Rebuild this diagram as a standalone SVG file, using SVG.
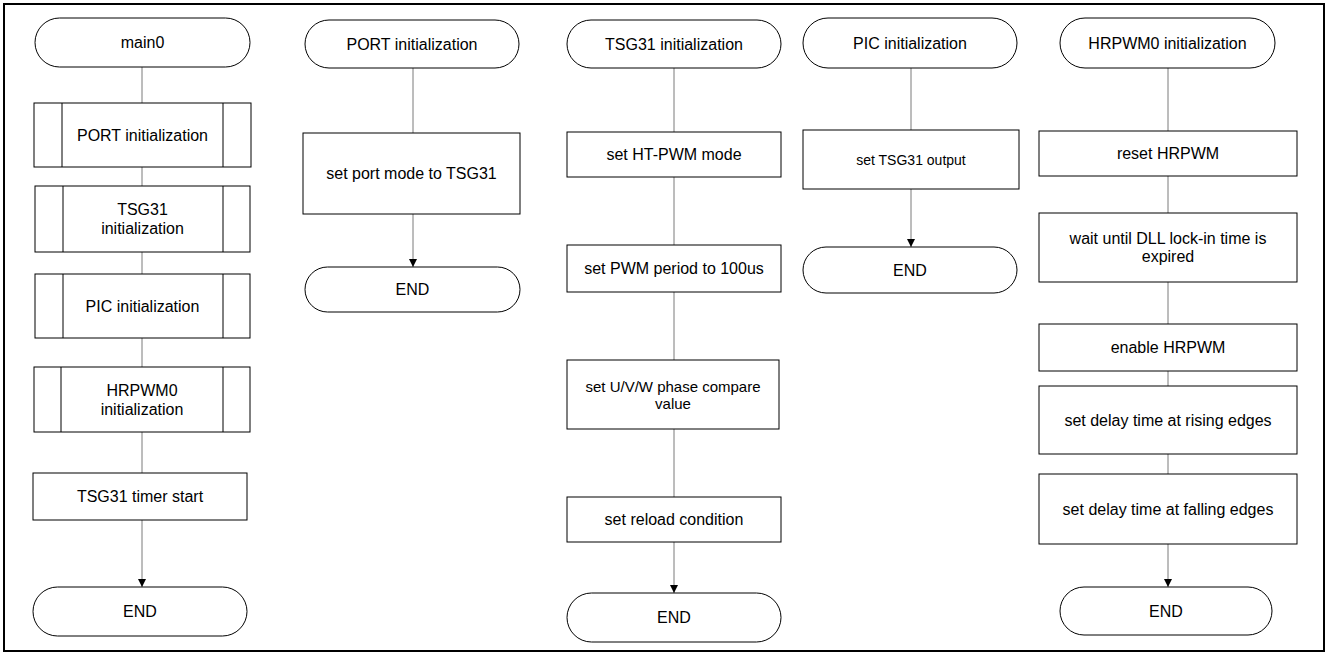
<svg xmlns="http://www.w3.org/2000/svg" width="1328" height="655" viewBox="0 0 1328 655">
<style>
.frame{fill:#fff;stroke:#000;stroke-width:2}
.shape{fill:#fff;stroke:#000;stroke-width:1}
.conn{fill:none;stroke:#7a7a7a;stroke-width:1}
.t{font-family:"Liberation Sans",Arial,sans-serif;font-size:16px;fill:#000;text-anchor:middle}
.s{font-size:14px}
</style>
<defs>
<marker id="arr" markerUnits="userSpaceOnUse" markerWidth="8" markerHeight="8" refX="8" refY="4" orient="auto">
<path d="M0,0 L8,4 L0,8 z" fill="#000"/>
</marker>
</defs>
<rect class="frame" x="4" y="4" width="1320" height="647"/>
<g id="connectors">
<line class="conn" x1="142" y1="67" x2="142" y2="103"/>
<line class="conn" x1="142" y1="167" x2="142" y2="186"/>
<line class="conn" x1="142" y1="252" x2="142" y2="274"/>
<line class="conn" x1="142" y1="338" x2="142" y2="367"/>
<line class="conn" x1="142" y1="432" x2="142" y2="473"/>
<line class="conn" x1="142" y1="520" x2="142" y2="587" marker-end="url(#arr)"/>
<line class="conn" x1="413" y1="68" x2="413" y2="133"/>
<line class="conn" x1="413" y1="214" x2="413" y2="267" marker-end="url(#arr)"/>
<line class="conn" x1="674" y1="68" x2="674" y2="132"/>
<line class="conn" x1="674" y1="177" x2="674" y2="245"/>
<line class="conn" x1="674" y1="292" x2="674" y2="360"/>
<line class="conn" x1="674" y1="429" x2="674" y2="497"/>
<line class="conn" x1="674" y1="542" x2="674" y2="593" marker-end="url(#arr)"/>
<line class="conn" x1="911" y1="68" x2="911" y2="130"/>
<line class="conn" x1="911" y1="189" x2="911" y2="247" marker-end="url(#arr)"/>
<line class="conn" x1="1168" y1="68" x2="1168" y2="131"/>
<line class="conn" x1="1168" y1="176" x2="1168" y2="213"/>
<line class="conn" x1="1168" y1="282" x2="1168" y2="324"/>
<line class="conn" x1="1168" y1="371" x2="1168" y2="386"/>
<line class="conn" x1="1168" y1="454" x2="1168" y2="474"/>
<line class="conn" x1="1168" y1="544" x2="1168" y2="587" marker-end="url(#arr)"/>
</g>
<!-- Column 1 -->
<g id="main0"><rect class="shape" x="35" y="18" width="215" height="49" rx="24.5" ry="24.5"/><text class="t" x="142.5" y="48">main0</text></g>
<g id="c1_port"><rect class="shape" x="34" y="103" width="217" height="64"/><line class="shape" x1="62" y1="103" x2="62" y2="167"/><line class="shape" x1="223" y1="103" x2="223" y2="167"/><text class="t" x="142.5" y="140.5">PORT initialization</text></g>
<g id="c1_tsg"><rect class="shape" x="35" y="186" width="215" height="66"/><line class="shape" x1="63" y1="186" x2="63" y2="252"/><line class="shape" x1="223" y1="186" x2="223" y2="252"/><text class="t" x="142.5" y="215">TSG31</text><text class="t" x="142.5" y="234">initialization</text></g>
<g id="c1_pic"><rect class="shape" x="35" y="274" width="215" height="64"/><line class="shape" x1="63" y1="274" x2="63" y2="338"/><line class="shape" x1="223" y1="274" x2="223" y2="338"/><text class="t" x="142.5" y="311.5">PIC initialization</text></g>
<g id="c1_hrpwm"><rect class="shape" x="34" y="367" width="216" height="65"/><line class="shape" x1="61" y1="367" x2="61" y2="432"/><line class="shape" x1="223" y1="367" x2="223" y2="432"/><text class="t" x="142" y="396">HRPWM0</text><text class="t" x="142" y="415">initialization</text></g>
<g id="c1_start"><rect class="shape" x="33" y="473" width="214" height="47"/><text class="t" x="140" y="502">TSG31 timer start</text></g>
<g id="c1_end"><rect class="shape" x="33" y="587" width="214" height="49" rx="24.5" ry="24.5"/><text class="t" x="140" y="617">END</text></g>
<!-- Column 2 -->
<g id="port_init"><rect class="shape" x="305" y="20" width="214" height="48" rx="24" ry="24"/><text class="t" x="412" y="49.5">PORT initialization</text></g>
<g id="port_mode"><rect class="shape" x="303" y="133" width="217" height="81"/><text class="t" x="411.5" y="179">set port mode to TSG31</text></g>
<g id="port_end"><rect class="shape" x="305" y="267" width="215" height="45" rx="22.5" ry="22.5"/><text class="t" x="412.5" y="295">END</text></g>
<!-- Column 3 -->
<g id="tsg_init"><rect class="shape" x="567" y="20" width="214" height="48" rx="24" ry="24"/><text class="t" x="674" y="49.5">TSG31 initialization</text></g>
<g id="tsg_mode"><rect class="shape" x="567" y="132" width="214" height="45"/><text class="t" x="674" y="160">set HT-PWM mode</text></g>
<g id="tsg_period"><rect class="shape" x="567" y="245" width="214" height="47"/><text class="t" x="674" y="274">set PWM period to 100us</text></g>
<g id="tsg_compare"><rect class="shape" x="567" y="360" width="212" height="69"/><text class="t" x="673" y="391.5" style="font-size:15px">set U/V/W phase compare</text><text class="t" x="673" y="408.5" style="font-size:15px">value</text></g>
<g id="tsg_reload"><rect class="shape" x="567" y="497" width="214" height="45"/><text class="t" x="674" y="525">set reload condition</text></g>
<g id="tsg_end"><rect class="shape" x="567" y="593" width="214" height="49" rx="24.5" ry="24.5"/><text class="t" x="674" y="623">END</text></g>
<!-- Column 4 -->
<g id="pic_init"><rect class="shape" x="803" y="18" width="214" height="50" rx="25" ry="25"/><text class="t" x="910" y="48.5">PIC initialization</text></g>
<g id="pic_out"><rect class="shape" x="803" y="130" width="216" height="59"/><text class="t s" x="911" y="164.5">set TSG31 output</text></g>
<g id="pic_end"><rect class="shape" x="803" y="247" width="214" height="46" rx="23" ry="23"/><text class="t" x="910" y="275.5">END</text></g>
<!-- Column 5 -->
<g id="hr_init"><rect class="shape" x="1060" y="18" width="215" height="50" rx="25" ry="25"/><text class="t" x="1167.5" y="48.5">HRPWM0 initialization</text></g>
<g id="hr_reset"><rect class="shape" x="1039" y="131" width="258" height="45"/><text class="t" x="1168" y="159">reset HRPWM</text></g>
<g id="hr_wait"><rect class="shape" x="1039" y="213" width="258" height="69"/><text class="t" x="1168" y="244">wait until  DLL lock-in time is</text><text class="t" x="1168" y="262">expired</text></g>
<g id="hr_enable"><rect class="shape" x="1039" y="324" width="258" height="47"/><text class="t" x="1168" y="353">enable HRPWM</text></g>
<g id="hr_rising"><rect class="shape" x="1039" y="386" width="258" height="68"/><text class="t" x="1168" y="425.5">set delay time at rising edges</text></g>
<g id="hr_falling"><rect class="shape" x="1039" y="474" width="258" height="70"/><text class="t" x="1168" y="514.5">set delay time at falling  edges</text></g>
<g id="hr_end"><rect class="shape" x="1060" y="587" width="212" height="48" rx="24" ry="24"/><text class="t" x="1166" y="616.5">END</text></g>
</svg>
